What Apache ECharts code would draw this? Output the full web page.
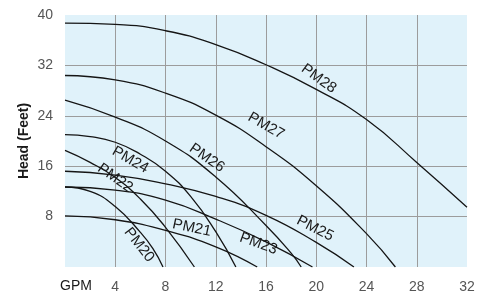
<!DOCTYPE html>
<html>
<head>
<meta charset="utf-8">
<script src="https://cdn.jsdelivr.net/npm/echarts@6/dist/echarts.min.js"></script>
<style>
html, body { margin: 0; padding: 0; background: #fff; }
#chart { width: 485px; height: 295px; }
</style>
</head>
<body>
<div id="chart"></div>
<script>
// axis ticks
var gpmTicks = [0, 4, 8, 12, 16, 20, 24, 28, 32];
var headTicks = [0, 8, 16, 24, 32, 40];

// pump curves, [GPM, head in feet]
var pm20 = [[0, 12.7], [2, 12.0], [4, 9.6], [6, 5.5], [7, 2.9], [7.8, 0]];
var pm21 = [[0, 8.1], [4, 7.5], [8, 5.8], [12, 3.2], [15.3, 0]];
var pm22 = [[0, 18.5], [2, 16.6], [4, 14.2], [6, 10.8], [8, 6.3], [10.3, 0]];
var pm23 = [[0, 12.7], [4, 12.2], [8, 10.6], [12, 7.6], [16, 4.0], [19.7, 0]];
var pm24 = [[0, 21.0], [2, 20.7], [4, 19.8], [6, 17.9], [8, 15.2], [10, 11.2], [12, 5.6], [13.6, 0]];
var pm25 = [[0, 15.2], [4, 14.6], [8, 13.2], [12, 11.2], [16, 8.2], [20, 3.9], [23, 0]];
var pm26 = [[0, 26.5], [4, 23.8], [8, 20.0], [12, 14.3], [16, 6.6], [18, 2.2], [18.8, 0]];
var pm27 = [[0, 30.4], [4, 29.7], [8, 27.6], [12, 24.1], [16, 19.1], [20, 12.9], [24, 5.3], [26.3, 0]];
var pm28 = [[0, 38.7], [4, 38.5], [8, 37.5], [12, 35.3], [16, 32.1], [20, 28.2], [24, 23.4], [28, 16.6], [32, 9.5]];

var curveNames = ['PM20', 'PM21', 'PM22', 'PM23', 'PM24', 'PM25', 'PM26', 'PM27', 'PM28'];
var curveData = [pm20, pm21, pm22, pm23, pm24, pm25, pm26, pm27, pm28];

// where each curve name is written: [GPM, head, angle]
var nameSpots = {
	PM20: [5.9, 3.5, -52],
	PM21: [10.1, 6.2, -12],
	PM22: [4.0, 14.1, -35],
	PM23: [15.4, 3.7, -20],
	PM24: [5.2, 17.0, -30],
	PM25: [19.9, 6.1, -27],
	PM26: [11.3, 17.3, -35],
	PM27: [16.0, 22.4, -30],
	PM28: [20.2, 29.9, -36]
};

var myChart = echarts.init(document.getElementById('chart'), null, {renderer: 'canvas'});

var series = curveNames.map(function (name, i) {
	var spot = nameSpots[name];
	return {
		name: name,
		type: 'line',
		data: curveData[i],
		smooth: true,
		showSymbol: false,
		silent: true,
		lineStyle: {color: '#151515', width: 1.3},
		markPoint: {
			symbol: 'circle',
			symbolSize: 0,
			silent: true,
			data: [{
				coord: [spot[0], spot[1]],
				label: {
					show: true,
					formatter: name,
					position: 'inside',
					rotate: spot[2],
					color: '#1a1a1a',
					fontFamily: 'Liberation Sans',
					fontSize: 15
				}
			}]
		}
	};
});

var option = {
	animation: false,
	grid: {
		left: 65, right: 18, top: 15, bottom: 28,
		show: true,
		backgroundColor: '#e0f2fa',
		borderWidth: 0
	},
	xAxis: {
		type: 'value',
		min: gpmTicks[0],
		max: gpmTicks[gpmTicks.length - 1],
		interval: gpmTicks[1] - gpmTicks[0],
		axisLine: {show: false},
		axisTick: {show: false},
		axisLabel: {
			margin: 13,
			color: '#555',
			fontFamily: 'Liberation Sans',
			fontSize: 14,
			formatter: function (v) { return v === 0 ? '' : v; }
		},
		splitLine: {show: true, showMinLine: false, showMaxLine: false, lineStyle: {color: '#9c9c9c', width: 1}}
	},
	yAxis: {
		type: 'value',
		min: headTicks[0],
		max: headTicks[headTicks.length - 1],
		interval: headTicks[1] - headTicks[0],
		name: 'Head (Feet)',
		nameLocation: 'middle',
		nameRotate: 90,
		nameGap: 34,
		nameMoveOverlap: false,
		nameTextStyle: {color: '#1a1a1a', fontFamily: 'Liberation Sans', fontSize: 14, fontWeight: 'bold'},
		axisLine: {show: false},
		axisTick: {show: false},
		axisLabel: {
			margin: 12,
			color: '#555',
			fontFamily: 'Liberation Sans',
			fontSize: 14,
			formatter: function (v) { return v === 0 ? '' : v; }
		},
		splitLine: {show: true, showMinLine: false, showMaxLine: false, lineStyle: {color: '#9c9c9c', width: 1}}
	},
	graphic: [{
		type: 'text',
		x: 60,
		y: 286,
		style: {
			text: 'GPM',
			fill: '#1a1a1a',
			font: '14px "Liberation Sans"',
			textVerticalAlign: 'middle'
		}
	}],
	series: series
};

myChart.setOption(option);
</script>
</body>
</html>
